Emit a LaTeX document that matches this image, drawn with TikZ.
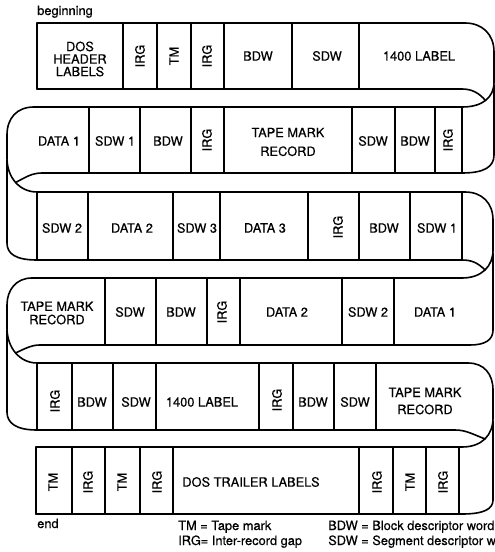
\documentclass[tikz,border=0pt]{standalone}
\usepackage{fontspec}
\setmainfont{TeX Gyre Heros}[FakeBold=0.5]
\begin{document}
\begin{tikzpicture}[x=0.75pt,y=-0.75pt,
  tape/.style={line width=1.2pt, line cap=round, line join=round},
  lbl/.style={font=\fontsize{9.6}{9.4}\selectfont, align=center, inner sep=0pt},
  vlbl/.style={lbl, rotate=90},
  note/.style={font=\fontsize{9.6}{11}\selectfont, inner sep=0pt, anchor=base west}]
\useasboundingbox (0,0) rectangle (495,552);
% outer snake of the tape
\draw[tape] (37,23) -- (465,23)
  .. controls (482,23) and (494,34) .. (494,52) -- (494,82)
  .. controls (494,98) and (482,107) .. (462,107) coordinate[pos=0.5] (fA)
  -- (34,107) .. controls (17,107) and (7,118) .. (7,135) -- (7,158)
  .. controls (7,178) and (20,192) .. (37,192) coordinate[pos=0.5] (fB)
  -- (465,192) .. controls (482,192) and (493,203) .. (493,220) -- (493,250)
  .. controls (493,266) and (482,278) .. (462,278) coordinate[pos=0.5] (fC)
  -- (32,278) .. controls (16,278) and (7,290) .. (7,305) -- (7,328)
  .. controls (7,348) and (20,363) .. (37,363) coordinate[pos=0.5] (fD)
  -- (468,363) .. controls (484,363) and (493,374) .. (493,390) -- (493,418)
  .. controls (493,435) and (482,447) .. (462,447) coordinate[pos=0.5] (fE)
  -- (36,447);
% inner edges and back sides
\draw[tape] (37,89) -- (462,89) .. controls (472,89) and (479,93) .. (fA);
\draw[tape] (494,85) -- (494,155) .. controls (494,167) and (484,173) .. (462,173)
  -- (42,173) .. controls (32,173) and (26,177) .. (fB);
\draw[tape] (7,160) -- (7,243) .. controls (7,254) and (16,260) .. (37,260)
  -- (462,260) .. controls (472,260) and (478,263) .. (fC);
\draw[tape] (493,253) -- (493,330) .. controls (493,340) and (485,345) .. (470,345)
  -- (40,345) .. controls (32,345) and (26,348) .. (fD);
\draw[tape] (7,330) -- (7,412) .. controls (7,423) and (16,430) .. (37,430)
  -- (455,430) .. controls (466,430) and (472,434) .. (fE);
\draw[tape] (493,421) -- (493,500) .. controls (493,509) and (484,514) .. (462,514)
  -- (36,514);
% dividers
\foreach \x in {37,123,157,191,224,292,359} \draw[tape] (\x,23) -- (\x,89);
\foreach \x in {89,140,191,224,352,395,435,462} \draw[tape] (\x,107) -- (\x,173);
\foreach \x in {37,88,173,220,308,359,410,462} \draw[tape] (\x,192) -- (\x,260);
\foreach \x in {105,156,207,240,342,394} \draw[tape] (\x,278) -- (\x,345);
\foreach \x in {37,72,113,156,259,293,334,376} \draw[tape] (\x,363) -- (\x,430);
\foreach \x in {36,72,105,140,173,359,393,426,459} \draw[tape] (\x,447) -- (\x,514);
% row 1
\node[lbl] (a1) at (80,59) {DOS\\HEADER\\LABELS};
\node[vlbl] (a2) at (140,56) {IRG};
\node[vlbl] (a3) at (174,56) {TM};
\node[vlbl] (a4) at (207,56) {IRG};
\node[lbl] (a5) at (258,56) {BDW};
\node[lbl] (a6) at (327,56) {SDW};
\node[lbl] (a7) at (419,56) {1400 LABEL};
% row 2
\node[lbl] (b1) at (59,141) {DATA 1};
\node[lbl] (b2) at (115,141) {SDW 1};
\node[lbl] (b3) at (168,141) {BDW};
\node[vlbl] (b4) at (207,140) {IRG};
\node[lbl, font=\fontsize{9.6}{14}\selectfont] (b5) at (288,142) {TAPE MARK\\RECORD};
\node[lbl] (b6) at (373,141) {SDW};
\node[lbl] (b7) at (415,141) {BDW};
\node[vlbl] (b8) at (448,140) {IRG};
% row 3
\node[lbl] (c1) at (62,228) {SDW 2};
\node[lbl] (c2) at (132,228) {DATA 2};
\node[lbl] (c3) at (197,228) {SDW 3};
\node[lbl] (c4) at (265,228) {DATA 3};
\node[vlbl] (c5) at (338,227) {IRG};
\node[lbl] (c6) at (384,228) {BDW};
\node[lbl] (c7) at (437,228) {SDW 1};
% row 4
\node[lbl, font=\fontsize{9.6}{10}\selectfont] (d1) at (57,313) {TAPE MARK\\RECORD};
\node[lbl] (d2) at (130,312) {SDW};
\node[lbl] (d3) at (181,312) {BDW};
\node[vlbl] (d4) at (222,312) {IRG};
\node[lbl] (d5) at (287,312) {DATA 2};
\node[lbl] (d6) at (368,312) {SDW 2};
\node[lbl] (d7) at (435,312) {DATA 1};
% row 5
\node[vlbl] (e1) at (55,401) {IRG};
\node[lbl] (e2) at (92,402) {BDW};
\node[lbl] (e3) at (136,402) {SDW};
\node[lbl] (e4) at (202,402) {1400 LABEL};
\node[vlbl] (e5) at (277,400) {IRG};
\node[lbl] (e6) at (313,402) {BDW};
\node[lbl] (e7) at (355,402) {SDW};
\node[lbl, font=\fontsize{9.6}{12.8}\selectfont] (e8) at (425,401) {TAPE MARK\\RECORD};
% row 6
\node[vlbl] (g1) at (53,482) {TM};
\node[vlbl] (g2) at (88,482) {IRG};
\node[vlbl] (g3) at (122,482) {TM};
\node[vlbl] (g4) at (157,482) {IRG};
\node[lbl] (g5) at (251,482) {DOS TRAILER LABELS};
\node[vlbl] (g6) at (377,482) {IRG};
\node[vlbl] (g7) at (410,482) {TM};
\node[vlbl] (g8) at (443,482) {IRG};
% notes
\node[note] (beg) at (37,15) {beginning};
\node[note] (end) at (37,528) {end};
\node[note] (k1) at (178,530) {TM = Tape mark};
\node[note] (k2) at (178,545) {IRG= Inter-record gap};
\node[note] (k3) at (328,530) {BDW = Block descriptor word};
\node[note] (k4) at (328,545) {SDW = Segment descriptor word};
\end{tikzpicture}
\end{document}
